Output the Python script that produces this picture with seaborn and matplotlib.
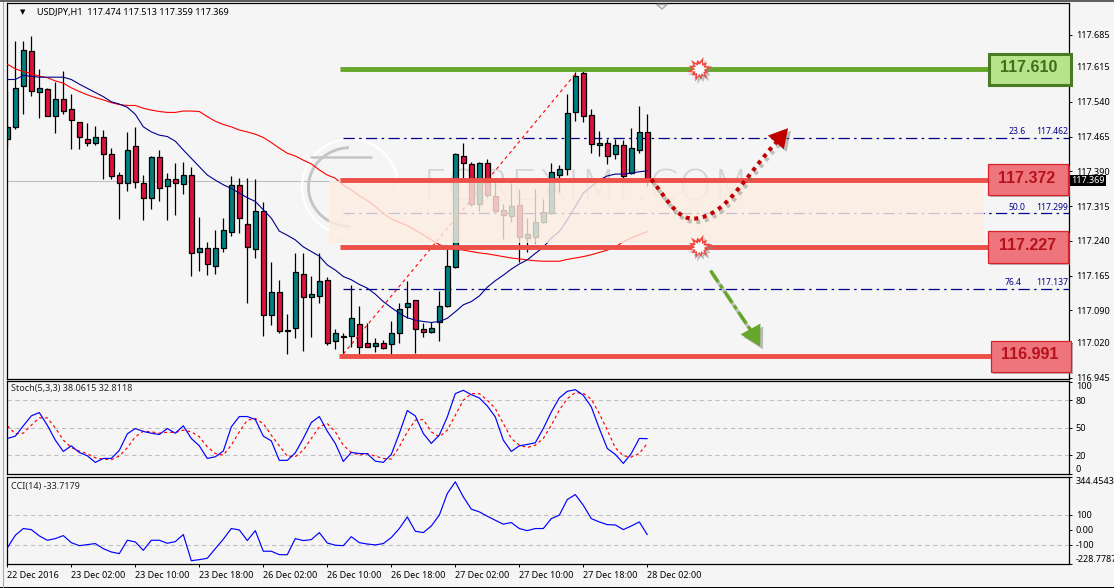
import numpy as np
import pandas as pd
import matplotlib
matplotlib.use("Agg")
import matplotlib.pyplot as plt
import matplotlib.patheffects as pe
from matplotlib.path import Path
from matplotlib.patches import PathPatch, Rectangle, Arc
from matplotlib.lines import Line2D
import seaborn as sns

# USDJPY H1 candles: open, high, low, close
opens = [117.459,117.485,117.573,117.649,117.562,117.567,117.510,117.545,117.524,117.496,
         117.459,117.450,117.465,117.427,117.381,117.364,117.444,117.364,117.332,117.420,
         117.358,117.373,117.362,117.381,117.215,117.224,117.185,117.224,117.260,117.360,
         117.276,117.222,117.304,117.081,117.129,117.047,117.051,117.168,117.118,117.120,
         117.155,117.025,117.034,117.034,117.060,117.019,117.014,117.019,117.017,117.041,
         117.097,117.112,117.049,117.043,117.066,117.099,117.184,117.424,117.405,117.319,
         117.407,117.336,117.306,117.293,117.317,117.247,117.248,117.280,117.299,117.382,
         117.394,117.517,117.601,117.511,117.446,117.450,117.427,117.446,117.386,117.437,
         117.474]
highs = [117.564,117.671,117.671,117.682,117.611,117.569,117.583,117.606,117.556,117.496,
         117.494,117.488,117.479,117.440,117.388,117.475,117.486,117.381,117.422,117.435,
         117.386,117.407,117.409,117.399,117.291,117.237,117.263,117.289,117.379,117.375,
         117.375,117.373,117.323,117.194,117.155,117.082,117.213,117.213,117.164,117.213,
         117.163,117.049,117.041,117.144,117.099,117.062,117.030,117.026,117.067,117.105,
         117.154,117.112,117.062,117.066,117.131,117.228,117.430,117.452,117.409,117.409,
         117.416,117.368,117.320,117.364,117.351,117.289,117.351,117.330,117.407,117.404,
         117.556,117.604,117.610,117.524,117.476,117.459,117.459,117.458,117.483,117.531,
         117.513]
lows = [117.443,117.481,117.514,117.552,117.505,117.510,117.473,117.514,117.439,117.439,
        117.445,117.447,117.374,117.374,117.288,117.348,117.355,117.284,117.309,117.327,
        117.285,117.296,117.341,117.164,117.175,117.166,117.168,117.216,117.251,117.257,
        117.107,117.202,117.035,117.059,117.042,116.997,117.031,117.003,117.033,117.105,
        117.016,117.007,116.996,117.010,116.994,117.010,117.001,117.006,116.994,117.019,
        117.073,116.999,117.032,117.041,117.025,117.097,117.181,117.375,117.316,117.305,
        117.335,117.302,117.245,117.281,117.195,117.215,117.235,117.278,117.298,117.346,
        117.382,117.499,117.497,117.430,117.424,117.405,117.416,117.376,117.384,117.429,
        117.359]
closes = [117.485,117.569,117.651,117.563,117.569,117.510,117.547,117.519,117.500,117.463,
          117.450,117.463,117.427,117.379,117.364,117.435,117.366,117.332,117.420,117.355,
          117.373,117.364,117.381,117.213,117.224,117.189,117.224,117.263,117.360,117.289,
          117.226,117.304,117.081,117.129,117.045,117.045,117.172,117.118,117.125,117.153,
          117.019,117.041,117.033,117.073,117.012,117.012,117.019,117.008,117.041,117.094,
          117.107,117.049,117.043,117.053,117.099,117.185,117.427,117.407,117.319,117.407,
          117.338,117.304,117.295,117.315,117.248,117.254,117.280,117.302,117.388,117.394,
          117.515,117.595,117.509,117.448,117.450,117.424,117.446,117.380,117.440,117.474,
          117.369]

# Moving averages overlaid on the price panel
ma_fast = [117.588,117.588,117.597,117.595,117.593,117.593,117.593,117.593,117.588,117.578,
           117.569,117.560,117.551,117.540,117.535,117.528,117.513,117.486,117.475,117.468,
           117.465,117.455,117.436,117.418,117.400,117.382,117.371,117.361,117.353,117.343,
           117.333,117.325,117.307,117.289,117.261,117.252,117.242,117.227,117.217,117.207,
           117.188,117.177,117.163,117.156,117.146,117.138,117.125,117.109,117.096,117.084,
           117.074,117.069,117.066,117.064,117.066,117.073,117.087,117.102,117.109,117.121,
           117.140,117.154,117.166,117.179,117.190,117.199,117.213,117.226,117.246,117.260,
           117.285,117.314,117.343,117.357,117.371,117.380,117.384,117.384,117.386,117.389,
           117.391]
ma_slow = [117.621,117.611,117.605,117.601,117.595,117.592,117.585,117.580,117.570,117.562,
           117.555,117.549,117.544,117.538,117.534,117.532,117.532,117.526,117.522,117.519,
           117.517,117.517,117.520,117.520,117.519,117.508,117.498,117.491,117.486,117.479,
           117.475,117.470,117.463,117.452,117.440,117.429,117.423,117.414,117.406,117.393,
           117.382,117.375,117.360,117.350,117.337,117.327,117.314,117.299,117.287,117.280,
           117.273,117.263,117.253,117.242,117.232,117.224,117.222,117.220,117.217,117.214,
           117.212,117.209,117.206,117.203,117.201,117.199,117.197,117.196,117.196,117.196,
           117.200,117.203,117.206,117.210,117.215,117.220,117.227,117.238,117.246,117.253,
           117.260]

# Stochastic oscillator (5,3,3)
stoch_main = [38.3,40.8,52.0,62.8,66.4,52.7,36.5,24.2,30.3,23.1,19.5,12.3,16.6,16.6,25.3,43.3,
              49.1,45.9,44.0,42.6,49.1,44.0,52.0,38.3,30.3,16.6,18.4,24.6,50.9,62.1,62.1,58.9,
              40.8,35.7,14.5,14.5,22.7,38.3,55.6,62.1,46.2,32.9,13.4,23.1,22.0,21.7,13.7,12.3,
              21.0,43.7,68.6,62.8,43.7,32.9,41.9,61.7,87.0,90.6,85.9,82.3,73.6,61.7,36.5,24.2,
              30.3,31.8,33.6,49.1,67.1,82.3,89.5,91.3,85.2,72.6,49.1,27.4,21.0,11.2,22.0,38.3,
              38.06]
stoch_signal = [52.0,43.3,44.0,52.7,60.6,60.6,49.8,36.5,28.5,24.6,21.7,17.3,15.9,15.2,19.1,28.2,
                40.1,46.2,45.5,44.0,45.1,44.8,47.3,45.5,40.1,29.2,22.0,20.2,31.0,45.5,58.1,59.9,
                54.5,41.9,30.3,19.1,18.4,25.6,38.3,50.9,54.5,45.5,31.0,23.1,20.2,21.7,19.1,16.6,
                15.9,29.2,45.5,58.1,58.9,45.5,40.1,47.3,63.5,79.8,87.0,87.0,79.8,70.8,54.5,38.3,
                31.0,28.5,31.0,38.3,52.7,69.0,81.6,88.1,87.4,80.9,65.4,47.3,28.2,19.5,18.1,22.0,
                32.81]

# Commodity channel index (14)
cci = [-122,-38,7,0,-42,-71,-60,-40,-87,-107,-100,-93,-127,-149,-160,-71,-82,-138,-71,-71,
       -91,-80,-33,-207,-200,-191,-127,-64,7,-2,-73,-7,-144,-144,-167,-167,-60,-73,-67,-20,
       -89,-104,-107,-47,-87,-96,-102,-93,-53,7,84,-11,-20,24,96,240,318,218,136,118,89,62,
       36,47,7,-7,7,7,73,96,200,233,162,73,51,33,31,0,24,51,-33.7]

# Support / resistance levels and Fibonacci retracement levels
resistance_level = 117.610
zone_upper = 117.372
zone_lower = 117.227
support_level = 116.991
fib_levels = [(23.6, 117.462), (50.0, 117.299), (76.4, 117.137)]
last_price = 117.369

price_ticks = [117.685, 117.615, 117.540, 117.465, 117.390, 117.315,
               117.240, 117.165, 117.090, 117.020, 116.945]
time_labels = ["22 Dec 2016", "23 Dec 02:00", "23 Dec 10:00", "23 Dec 18:00",
               "26 Dec 02:00", "26 Dec 10:00", "26 Dec 18:00", "27 Dec 02:00",
               "27 Dec 10:00", "27 Dec 18:00", "28 Dec 02:00"]

bars = pd.DataFrame({"bar": np.arange(len(opens)), "open": opens, "high": highs, "low": lows,
                     "close": closes, "ma_fast": ma_fast, "ma_slow": ma_slow,
                     "stoch_main": stoch_main, "stoch_signal": stoch_signal, "cci": cci})

sns.set_theme(style="ticks")
BG = "#f5f5f5"
TEAL, CRIMSON = "#008080", "#dc143c"
NAVY = "#00008b"
RED_LVL, GREEN_LVL = "#ee4f47", "#66a62a"
plt.rcParams["font.family"] = ["Noto Sans", "DejaVu Sans"]
plt.rcParams["font.size"] = 6.5
plt.rcParams["axes.linewidth"] = 0.9

W, H = 1114, 588
fig = plt.figure(figsize=(W / 100, H / 100), dpi=100, facecolor=BG)


def panel(top, bottom, left=6.5, right=1069.3):
    ax = fig.add_axes([left / W, 1 - bottom / H, (right - left) / W, (bottom - top) / H])
    ax.set_facecolor(BG)
    ax.set_xlim(-0.1, 132.75)
    ax.yaxis.tick_right()
    ax.tick_params(axis="y", length=2.2, width=0.7, pad=2.4, labelsize=6.5, colors="black")
    ax.tick_params(axis="x", length=0, labelbottom=False)
    for s in ax.spines.values():
        s.set_color("black")
    ax.set_xlabel("")
    ax.set_ylabel("")
    return ax


ax_price = panel(3, 379)
ax_stoch = panel(381, 474)
ax_cci = panel(476.7, 564.3)

# ---- price panel ----
ax = ax_price
ax.set_ylim(116.942, 117.753)
ax.axhline(last_price, color="#c0c0c0", lw=0.8, zorder=1)

# watermark
ax.text(103 / 2 + 0.4, 117.353, "FOREXIMF.COM", fontsize=31, color="#b9b9b9", alpha=0.55,
        family="DejaVu Sans", fontweight="light", ha="left", va="center", zorder=1.2)
ax.add_patch(Arc((42.85, 117.356), 12, 0.207, color="white", lw=1.6, zorder=1.2))
ax.add_patch(Arc((42.85, 117.356), 10.4, 0.17, theta1=150, theta2=250, color="#c4c4c4", lw=2.0, zorder=1.2))
ax.add_patch(Arc((42.85, 117.356), 9.4, 0.12, theta1=190, theta2=290, color="#d0d0d0", lw=1.6, zorder=1.2))
ax.plot([38.0, 45.5], [117.42, 117.42], color="#c4c4c4", lw=1.8, zorder=1.2)

sns.lineplot(data=bars, x="bar", y="ma_slow", ax=ax, color="#ff0000", lw=0.8, legend=False,
             errorbar=None, zorder=2.6)
sns.lineplot(data=bars, x="bar", y="ma_fast", ax=ax, color="#00008b", lw=0.8, legend=False,
             errorbar=None, zorder=2.6)

# candlesticks
is_up = bars["close"] >= bars["open"]
ax.vlines(bars["bar"], bars["low"], bars["high"], color="black", lw=0.9, zorder=2.2)
ax.bar(bars["bar"], (bars["close"] - bars["open"]).abs().clip(lower=0.0015),
       bottom=bars[["open", "close"]].min(axis=1), width=0.56,
       color=[TEAL if u else CRIMSON for u in is_up], edgecolor="black", linewidth=0.9, zorder=2.4)

# retracement lines and the swing they measure
for pct, lvl in fib_levels:
    ax.plot([42, 132.75], [lvl, lvl], color=NAVY, lw=0.9, ls=(0, (9, 3.5, 2, 3.5)), zorder=2.0)
    ax.text(125.1 if pct != 76.4 else 124.7, lvl + 0.004, f"{pct:.1f}", color=NAVY, fontsize=6.2,
            ha="left", va="bottom", zorder=6, linespacing=1)
    ax.text(132.6, lvl + 0.004, f"{lvl:.3f}", color=NAVY, fontsize=6.2, ha="right", va="bottom", zorder=6)
ax.plot([42, 71.2], [116.996, 117.604], color="#ff0000", lw=0.8, ls=(0, (3, 3)), zorder=2.7)

# highlighted zone sits over the candles, so they show through faintly
ax.add_patch(Rectangle((40.2, 117.236), 81.9, 0.134, facecolor="#fdeee2", alpha=0.80,
                       edgecolor="none", zorder=3))

for lvl, colour, start, end in [(resistance_level, GREEN_LVL, 41.6, 122.9),
                                (zone_upper, RED_LVL, 41.6, 122.8),
                                (zone_lower, RED_LVL, 41.6, 122.8),
                                (support_level, RED_LVL, 41.5, 123.2)]:
    ax.plot([start, end], [lvl, lvl], color=colour, lw=3.5, solid_capstyle="butt", zorder=4)

# value boxes on the level lines
box_shadow = [pe.SimplePatchShadow(offset=(1.5, -1.5), shadow_rgbFace="#909090", alpha=0.6), pe.Normal()]
for lvl, x0, x1, face, edge, lw, txt_col, h in [
        (resistance_level, 122.7, 132.9, "#b5e48a", "#4a7a22", 2.2, "#3f6e1c", 0.0675),
        (zone_upper, 122.6, 132.55, "#ee757c", "#d8222c", 0.9, "#b5121b", 0.0677),
        (zone_lower, 122.6, 132.55, "#ee757c", "#d8222c", 0.9, "#b5121b", 0.0677),
        (support_level, 123.0, 132.9, "#ee757c", "#d8222c", 0.9, "#b5121b", 0.0677)]:
    ax.add_patch(Rectangle((x0, lvl - h / 2), x1 - x0, h, facecolor=face, edgecolor=edge, lw=lw,
                           clip_on=False, zorder=5, path_effects=box_shadow))
    ax.text((x0 + x1) / 2 - 0.1, lvl + 0.003, f"{lvl:.3f}", color=txt_col, fontsize=11.5, family="Liberation Sans",
            fontweight="bold", ha="center", va="center", zorder=6, clip_on=False)

# burst markers on the two touched levels
burst_r = [1.0, .52, .78, .50, .96, .55, .70, .50, .92, .52, .82, .50,
           1.0, .52, .72, .50, .95, .52, .76, .50, .90, .52, .72, .50]
burst_a = np.linspace(0, 2 * np.pi, len(burst_r), endpoint=False) + 0.2
burst = Path(np.column_stack([np.cos(burst_a) * burst_r, np.sin(burst_a) * burst_r]), closed=False)
burst_shadow = [pe.SimplePatchShadow(offset=(1.5, -2), shadow_rgbFace="#8a8a8a", alpha=0.5), pe.Normal()]
for lvl in (resistance_level, zone_lower):
    ax.plot([86.5], [lvl], marker=burst, ms=19, mfc="#f0483e", mec="none", ls="none", zorder=7,
            path_effects=burst_shadow)
    ax.plot([86.5], [lvl], marker=burst, ms=12, mfc="white", mec="none", ls="none", zorder=7.2)

# projected bounce: dotted curve ending in an arrow head
curve_bars = [80.5, 83.0, 84.0, 86.0, 90.0, 92.0, 96.2]
curve_prices = [117.373, 117.315, 117.285, 117.288, 117.296, 117.375, 117.454]
line_shadow = [pe.SimpleLineShadow(offset=(1.5, -2.5), shadow_color="#707070", alpha=0.4), pe.Normal()]
ax.add_patch(PathPatch(Path(np.column_stack([curve_bars, curve_prices]),
                            [Path.MOVETO] + [Path.CURVE4] * 6),
                       fill=False, edgecolor="#c00000", lw=2.9, ls=(0, (1, 1.15)), zorder=7,
                       path_effects=line_shadow))
ax.annotate("", xy=(97.6, 117.483), xytext=(95.9, 117.449), zorder=7,
            arrowprops=dict(arrowstyle="-|>,head_length=0.75,head_width=0.42", mutation_scale=18,
                            color="#c00000", lw=0, shrinkA=0, shrinkB=0,
                            path_effects=[pe.SimplePatchShadow(offset=(2, -2), shadow_rgbFace="#707070", alpha=0.45), pe.Normal()]))

# projected breakdown: dash-dot arrow
ax.plot([87.9, 93.6], [117.176, 117.030], color=GREEN_LVL, lw=2.5, ls=(0, (4, 1, 1.2, 1)), zorder=7,
        path_effects=line_shadow)
ax.annotate("", xy=(94.1, 117.012), xytext=(92.9, 117.050), zorder=7,
            arrowprops=dict(arrowstyle="-|>,head_length=0.8,head_width=0.45", mutation_scale=18,
                            color=GREEN_LVL, lw=0, shrinkA=0, shrinkB=0,
                            path_effects=[pe.SimplePatchShadow(offset=(2, -2), shadow_rgbFace="#707070", alpha=0.45), pe.Normal()]))

ax.set_yticks(price_ticks, [f"{t:.3f}" for t in price_ticks])
ax.set_xlabel("")
ax.set_ylabel("")
ax.text(1.9, 117.7335, "\u25bc", fontsize=5, color="black", family="DejaVu Sans", ha="center", va="center")
ax.text(3.75, 117.7335, "USDJPY,H1  117.474 117.513 117.359 117.369", fontsize=6.5, color="black",
        ha="left", va="center")
# current price flag on the axis
ax.text(1071.5 / W, 1 - 180.7 / H, "117.369", transform=fig.transFigure, fontsize=6.5, color="white",
        ha="left", va="center", clip_on=False, zorder=9,
        bbox=dict(facecolor="black", edgecolor="none", pad=0.9))

# ---- stochastic panel ----
ax = ax_stoch
ax.set_ylim(-0.3, 100.7)
for lvl in (80, 50, 20):
    ax.axhline(lvl, color="#c0c0c0", lw=0.8, ls=(0, (4, 3)), zorder=1)
sns.lineplot(data=bars, x="bar", y="stoch_main", ax=ax, color="#0000ff", lw=0.85, legend=False, errorbar=None, zorder=3)
sns.lineplot(data=bars, x="bar", y="stoch_signal", ax=ax, color="#ff0000", lw=0.85, legend=False, errorbar=None,
             linestyle=(0, (2.5, 2.5)), zorder=2)
ax.set_yticks([100, 80, 50, 20, 0], ["100", "80", "50", "20", "0"])
ax.get_yticklabels()[0].set_va("top")
ax.get_yticklabels()[-1].set_va("bottom")
ax.set_xlabel("")
ax.set_ylabel("")
ax.text(0.0043, 0.92, "Stoch(5,3,3) 38.0615 32.8118", transform=ax.transAxes, fontsize=6.5, ha="left", va="center")

# ---- CCI panel ----
ax = ax_cci
ax.set_ylim(-231, 352)
for lvl in (100, -100):
    ax.axhline(lvl, color="#c0c0c0", lw=0.8, ls=(0, (4, 3)), zorder=1)
sns.lineplot(data=bars, x="bar", y="cci", ax=ax, color="#0000ff", lw=0.85, legend=False, errorbar=None, zorder=3)
ax.set_yticks([352, 100, 0, -100, -231], ["344.4543", "100", "0.00", "-100", "-228.7787"])
ax.get_yticklabels()[0].set_va("top")
ax.get_yticklabels()[-1].set_va("bottom")
ax.set_xlabel("")
ax.set_ylabel("")
ax.text(0.0043, 0.885, "CCI(14) -33.7179", transform=ax.transAxes, fontsize=6.5, ha="left", va="center")
ax.set_xticks(np.arange(0, 81, 8), time_labels)
ax.tick_params(axis="x", length=2.4, width=0.7, pad=2.2, labelbottom=True, labelsize=6.5, colors="black")
for lab in ax.get_xticklabels():
    lab.set_ha("left")

# window frame around the chart
fig.add_artist(Rectangle((0, 1 - 1.5 / H), 1, 1.5 / H, transform=fig.transFigure, facecolor="#606060", edgecolor="none"))
fig.add_artist(Rectangle((0, 0), 1, 1.2 / H, transform=fig.transFigure, facecolor="black", edgecolor="none"))
fig.add_artist(Line2D([3.2 / W, 3.2 / W], [1.2 / H, 1 - 1.5 / H], transform=fig.transFigure, color="#a8a8a8", lw=0.8))
fig.add_artist(Line2D([657 / W, 662 / W, 667 / W, 657 / W], [1 - 4.5 / H, 1 - 9 / H, 1 - 4.5 / H, 1 - 4.5 / H],
                      transform=fig.transFigure, color="#a8a8a8", lw=1))

fig.savefig("out.png", dpi=100, facecolor=BG)
